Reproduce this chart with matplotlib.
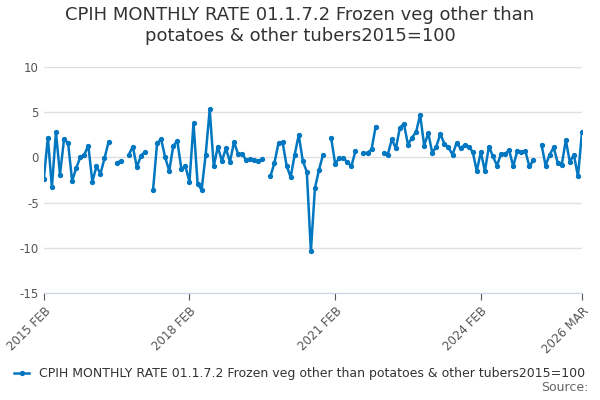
import numpy as np
import matplotlib.pyplot as plt

plt.rcParams['axes.unicode_minus'] = False

# monthly values from 2015 FEB, gaps are missing months
segments = [
    (0, [-2.4, 2.2, -3.3, 2.8, -1.9, 2.0, 1.6, -2.6, -1.2, 0.0, 0.3, 1.3, -2.7, -1.0, -1.8, -0.1, 1.7]),
    (18, [-0.6, -0.4]),
    (21, [0.3, 1.2, -1.1, 0.2, 0.6]),
    (27, [-3.6, 1.6, 2.0, 0.0, -1.5, 1.3, 1.8, -1.3, -1.0, -2.7, 3.8, -2.9, -3.6, 0.3, 5.3,
          -1.0, 1.2, -0.4, 1.0, -0.5, 1.7, 0.4, 0.4, -0.3, -0.2, -0.3, -0.4, -0.2]),
    (56, [-2.1, -0.6, 1.6, 1.7, -0.9, -2.2, 0.3, 2.5, -0.4, -1.6, -10.4, -3.4, -1.4, 0.3]),
    (71, [2.2, -0.7, -0.1, -0.1, -0.5, -1.0, 0.7]),
    (79, [0.5, 0.5, 0.9, 3.4]),
    (84, [0.5, 0.3, 2.0, 1.0, 3.3, 3.7, 1.4, 2.2, 2.8, 4.7, 1.3, 2.7, 0.5, 1.2,
          2.6, 1.5, 1.1, 0.3, 1.6, 1.0, 1.4, 1.2, 0.6, -1.5, 0.6, -1.5, 1.2, 0.1, -0.9,
          0.4, 0.4, 0.8, -1.0, 0.7, 0.6, 0.7, -1.0, -0.3]),
    (123, [1.4, -0.9, 0.3, 1.1, -0.6, -0.8, 1.9, -0.5, 0.3, -2.1, 2.8]),
]
n_months = 134
tick_pos = [0, 36, 72, 108, 133]
tick_labels = ['2015 FEB', '2018 FEB', '2021 FEB', '2024 FEB', '2026 MAR']

values = np.full(n_months, np.nan)
for start, vals in segments:
    values[start:start + len(vals)] = vals

color = '#0077c0'
fig = plt.figure(figsize=(6, 4), dpi=100)
ax = fig.add_axes([0.073, 0.2675, 0.897, 0.565])
x = np.arange(n_months)
line, = ax.plot(x, values, color=color, lw=1.8, marker='o', ms=2.8,
                label='CPIH MONTHLY RATE 01.1.7.2 Frozen veg other than potatoes & other tubers2015=100')

ax.set_xlim(0, 133)
ax.set_ylim(-15, 10)
ax.set_yticks([-15, -10, -5, 0, 5, 10])
ax.grid(axis='y', color='#e0e0e0', lw=1)
ax.tick_params(axis='y', length=0, colors='#555555', labelsize=8.5)
ax.set_xticks(tick_pos)
ax.set_xticklabels(tick_labels, rotation=45, ha='right', rotation_mode='anchor')
ax.tick_params(axis='x', colors='#555555', labelsize=8.5, length=5)
for s in ['top', 'right', 'left']:
    ax.spines[s].set_visible(False)
ax.spines['bottom'].set_color('#ccd6eb')

fig.suptitle('CPIH MONTHLY RATE 01.1.7.2 Frozen veg other than\npotatoes & other tubers2015=100',
             y=0.985, fontsize=13, color='#333333')
fig.legend(handles=[line], loc='center', bbox_to_anchor=(0.5, 0.065), frameon=False,
           fontsize=9, handlelength=1.2, labelcolor='#333333')
fig.text(0.98, 0.015, 'Source:', ha='right', va='bottom', fontsize=9, color='#666666')
fig.savefig('out.png')
